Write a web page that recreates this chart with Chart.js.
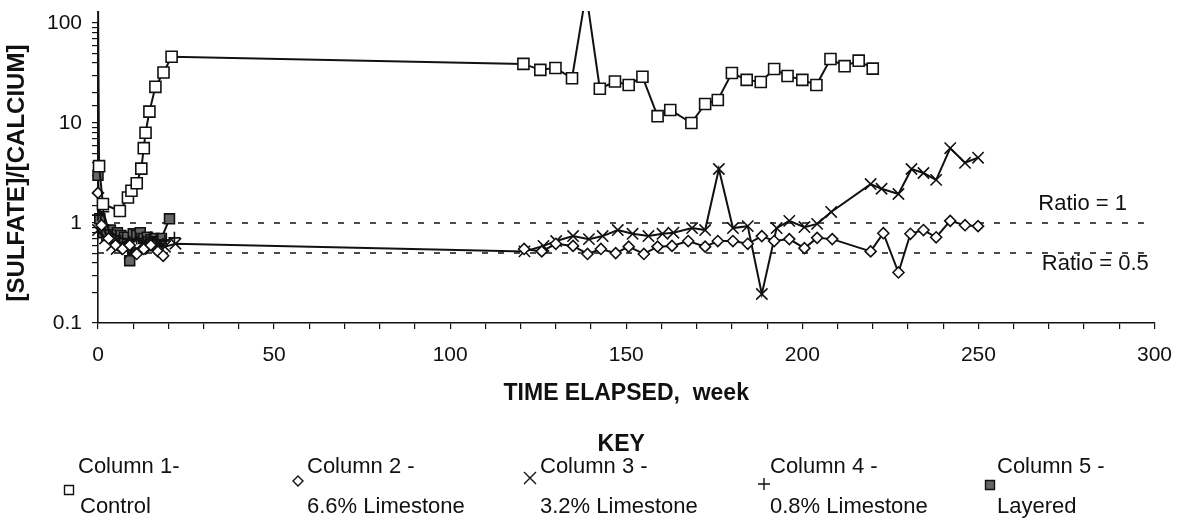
<!DOCTYPE html>
<html>
<head>
<meta charset="utf-8">
<script src="https://cdn.jsdelivr.net/npm/chart.js@4.4.1/dist/chart.umd.min.js"></script>
<style>
  html, body { margin: 0; padding: 0; background: #fff; }
  #wrap { width: 1186px; height: 525px; position: relative; }
</style>
</head>
<body>
<div id="wrap"><canvas id="ratioChart"></canvas></div>
<script>
// [sulfate]/[calcium] ratio vs. time
const col1Weeks = [0, 0.3, 1.4, 6.2, 8.5, 9.5, 11, 12.3, 13, 13.5, 14.6, 16.3, 18.6, 20.9,
	120.8, 125.6, 129.9, 134.6, 138.6, 142.5, 146.8, 150.7, 154.6, 158.9, 162.5, 168.5, 172.4,
	176, 180, 184.2, 188.2, 192, 195.8, 200, 204, 208, 212, 216, 220];
const col1Ratio = [200, 3.7, 1.55, 1.32, 1.8, 2.1, 2.5, 3.5, 5.6, 8, 13, 23, 32, 46,
	39, 34, 35.5, 28, 200, 22, 26, 24, 29, 11.7, 13.5, 10, 15.5,
	17, 31.6, 27, 25.7, 34.7, 29.5, 27, 24, 43.6, 37, 42, 35];

const col2Weeks = [0, 1, 3, 5, 7, 9, 11, 13, 15, 17, 18.5, 60,
	121, 126, 130, 134.9, 139, 142.8, 147, 150.7, 155, 158.9, 163, 167.6, 172.4, 176, 180.3,
	184.5, 188.5, 192, 196.3, 200.6, 204.2, 208.5, 219.4, 223, 227.3, 230.7, 234.4, 238, 242,
	246.2, 249.9];
const col2Ratio = [2.0, 0.95, 0.7, 0.6, 0.55, 0.6, 0.49, 0.55, 0.6, 0.52, 0.47, null,
	0.55, 0.52, 0.62, 0.59, 0.49, 0.55, 0.5, 0.58, 0.49, 0.58, 0.59, 0.66, 0.58, 0.66, 0.66,
	0.62, 0.74, 0.66, 0.69, 0.56, 0.71, 0.69, 0.52, 0.79, 0.32, 0.78, 0.85, 0.72, 1.05,
	0.95, 0.93];

const col3Weeks = [0, 2, 4, 5.3, 7, 9, 11, 13, 15, 17, 19, 22,
	121.1, 126.5, 130.1, 134.9, 139.4, 143.3, 147.6, 151.8, 156.3, 160.3, 163.4, 168.7, 172.4,
	176.3, 180.3, 184.5, 188.5, 192.7, 196.3, 200.6, 204.2, 208.2, 219.4, 222.5, 227.3, 231,
	234.4, 238, 242, 246.2, 249.9];
const col3Ratio = [0.85, 0.7, 0.6, 0.55, 0.6, 0.5, 0.55, 0.6, 0.55, 0.62, 0.58, 0.62,
	0.52, 0.59, 0.66, 0.74, 0.69, 0.74, 0.85, 0.78, 0.74, 0.78, 0.8, 0.89, 0.85,
	3.47, 0.89, 0.93, 0.195, 0.89, 1.05, 0.91, 0.98, 1.29, 2.45, 2.2, 1.95, 3.47,
	3.16, 2.7, 5.6, 4.0, 4.5];

const col4Weeks = [0, 1.5, 3, 5, 7, 9, 11, 13, 15, 17, 19, 21.7];
const col4Ratio = [1.2, 1.3, 0.85, 0.75, 0.7, 0.65, 0.7, 0.65, 0.72, 0.68, 0.66, 0.71];

const col5Weeks = [0, 0.5, 1.5, 2.5, 3.5, 4.5, 5.5, 6.5, 7.5, 9, 10, 11, 12, 13, 14, 15, 16, 17, 18, 20.3];
const col5Ratio = [3.0, 1.1, 0.8, 0.75, 0.85, 0.7, 0.8, 0.75, 0.72, 0.42, 0.78, 0.75, 0.8, 0.7,
	0.72, 0.68, 0.7, 0.65, 0.7, 1.1];

const ratioLevels = [1, 0.5];
const ratioLabels = ['Ratio = 1', 'Ratio = 0.5'];
const ratioLineWeeks = [0, 297];

const yTickValues = [0.1, 1, 10, 100];
const keyLabels = [
	['Column 1-', 'Control'],
	['Column 2 -', '6.6% Limestone'],
	['Column 3 -', '3.2% Limestone'],
	['Column 4 -', '0.8% Limestone'],
	['Column 5 -', 'Layered']
];

const INK = '#111';
const FONT = '"Liberation Sans", Arial, sans-serif';

function pts(weeks, vals) {
	return weeks.map((w, i) => ({ x: w, y: vals[i] }));
}

function series(label, weeks, vals, style, radius, fill) {
	return {
		label: label,
		data: pts(weeks, vals),
		borderColor: INK,
		borderWidth: 2,
		pointStyle: style,
		pointRadius: radius,
		pointHoverRadius: radius,
		pointBorderColor: INK,
		pointBorderWidth: 1.6,
		pointBackgroundColor: fill,
		spanGaps: false,
		clip: { left: 10, top: 12, right: 10, bottom: 10 }
	};
}

const datasets = [
	series('Column 1', col1Weeks, col1Ratio, 'rect', 7.8, '#fff'),
	series('Column 2', col2Weeks, col2Ratio, 'rectRot', 5.5, '#fff'),
	series('Column 3', col3Weeks, col3Ratio, 'crossRot', 8, '#fff'),
	series('Column 4', col4Weeks, col4Ratio, 'cross', 6, '#fff'),
	series('Column 5', col5Weeks, col5Ratio, 'rect', 7, '#666')
];

ratioLevels.forEach((lvl) => {
	datasets.push({
		label: 'ratio ' + lvl,
		data: ratioLineWeeks.map((w) => ({ x: w, y: lvl })),
		borderColor: INK,
		borderWidth: 1.5,
		borderDash: [6, 10],
		pointRadius: 0
	});
});

// small marker glyphs for the key
function drawMarker(ctx, style, x, y) {
	ctx.save();
	ctx.strokeStyle = INK;
	ctx.lineWidth = 1.4;
	ctx.beginPath();
	if (style === 'square') {
		ctx.rect(x - 4.5, y - 4.5, 9, 9);
		ctx.stroke();
	} else if (style === 'diamond') {
		ctx.moveTo(x, y - 5); ctx.lineTo(x + 5, y); ctx.lineTo(x, y + 5); ctx.lineTo(x - 5, y);
		ctx.closePath();
		ctx.stroke();
	} else if (style === 'x') {
		ctx.moveTo(x - 6, y - 6); ctx.lineTo(x + 6, y + 6);
		ctx.moveTo(x + 6, y - 6); ctx.lineTo(x - 6, y + 6);
		ctx.stroke();
	} else if (style === 'plus') {
		ctx.moveTo(x - 6, y); ctx.lineTo(x + 6, y);
		ctx.moveTo(x, y - 6); ctx.lineTo(x, y + 6);
		ctx.stroke();
	} else {
		ctx.fillStyle = '#666';
		ctx.rect(x - 4.5, y - 4.5, 9, 9);
		ctx.fill();
		ctx.stroke();
	}
	ctx.restore();
}

const keyPlugin = {
	id: 'keyPlugin',
	afterDraw(chart) {
		const ctx = chart.ctx;
		const xs = chart.scales.x;
		const ys = chart.scales.y;
		ctx.save();
		ctx.fillStyle = INK;
		ctx.textBaseline = 'middle';
		ctx.textAlign = 'left';
		ctx.font = '22px ' + FONT;
		ctx.fillText(ratioLabels[0], xs.getPixelForValue(267), ys.getPixelForValue(ratioLevels[0]) - 19);
		ctx.fillText(ratioLabels[1], xs.getPixelForValue(268), ys.getPixelForValue(ratioLevels[1]) + 11);

		ctx.textAlign = 'center';
		ctx.font = 'bold 23px ' + FONT;
		ctx.fillText('KEY', (chart.chartArea.left + chart.chartArea.right) / 2 - 5, 445);

		const markerX = [69, 298, 530, 764, 990];
		const markerY = [490, 481, 478, 484, 485];
		const textX = [78, 307, 540, 770, 997];
		const styles = ['square', 'diamond', 'x', 'plus', 'filled'];
		ctx.textAlign = 'left';
		ctx.font = '22px ' + FONT;
		keyLabels.forEach((lines, i) => {
			drawMarker(ctx, styles[i], markerX[i], markerY[i]);
			ctx.fillText(lines[0], textX[i], 467);
			ctx.fillText(lines[1], textX[i] + (i === 0 ? 2 : 0), 507);
		});
		ctx.restore();
	}
};

new Chart(document.getElementById('ratioChart').getContext('2d'), {
	type: 'line',
	data: { datasets: datasets },
	plugins: [keyPlugin],
	options: {
		responsive: true,
		maintainAspectRatio: false,
		animation: false,
		events: [],
		layout: { padding: { top: 23, right: 23, bottom: 0, left: 0 } },
		plugins: { legend: { display: false }, tooltip: { enabled: false } },
		scales: {
			x: {
				type: 'linear',
				min: 0,
				max: 300,
				afterFit: (s) => { s.height = 202; },
				border: { color: INK, width: 1.6 },
				grid: { drawOnChartArea: false, color: INK, tickLength: 6, lineWidth: 1.2 },
				ticks: {
					stepSize: 10,
					autoSkip: false,
					maxRotation: 0,
					padding: 14,
					color: INK,
					font: { family: FONT, size: 21 },
					callback: (v) => (v % 50 === 0 ? String(v) : '')
				},
				title: {
					display: true,
					text: 'TIME ELAPSED,  week',
					color: INK,
					font: { family: FONT, size: 23, weight: 'bold' },
					padding: { top: 0, bottom: 118 }
				}
			},
			y: {
				type: 'logarithmic',
				min: 0.1,
				max: 100,
				afterFit: (s) => { s.width = 98; },
				border: { color: INK, width: 1.6 },
				grid: { drawOnChartArea: false, color: INK, tickLength: 6, lineWidth: 1.2 },
				ticks: {
					autoSkip: false,
					padding: 10,
					color: INK,
					font: { family: FONT, size: 21 },
					callback: (v) => (yTickValues.some((t) => Math.abs(t - v) < 1e-9) ? String(v) : '')
				},
				title: {
					display: true,
					text: '[SULFATE]/[CALCIUM]',
					color: INK,
					font: { family: FONT, size: 24, weight: 'bold' },
					padding: { top: 3, bottom: 0 }
				}
			}
		}
	}
});
</script>
</body>
</html>
